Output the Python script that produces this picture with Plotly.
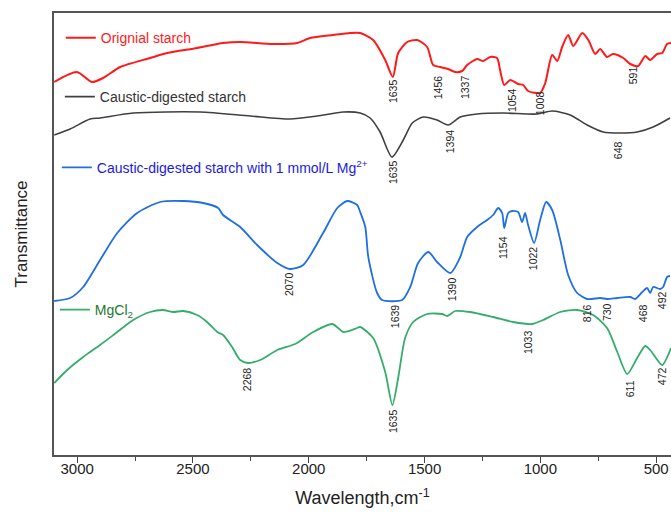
import plotly.graph_objects as go

# ---------------- data (wavenumber cm-1, transmittance a.u.) ----------------
wn_red = [3099, 3001, 2937, 2888, 2814, 2685, 2611, 2482, 2370, 2296, 2154, 2050, 1994, 1895,
          1821, 1778, 1722, 1670, 1637, 1614, 1575, 1532, 1489, 1463, 1433, 1398, 1368, 1338,
          1316, 1273, 1247, 1217, 1187, 1174, 1156, 1130, 1096, 1074, 1053, 1001, 979, 949,
          927, 906, 880, 858, 819, 793, 763, 742, 712, 686, 642, 612, 578, 547, 526, 496, 474,
          453, 436]
t_red = [373, 383, 373, 377, 388, 397, 402, 407, 412, 413, 411, 412, 417, 420,
         422, 422, 415, 395, 378, 402, 413, 415, 408, 390, 388, 386, 383, 384,
         390, 396, 394, 398, 397, 385, 370, 375, 371, 370, 364, 362, 372, 400,
         394, 408, 420, 409, 422, 415, 401, 406, 398, 401, 397, 391, 389, 399, 395, 401, 402,
         411, 412]

wn_black = [3099, 3030, 2944, 2901, 2758, 2469, 2253, 2080, 1964, 1851, 1778, 1735, 1692, 1641,
            1592, 1553, 1506, 1446, 1398, 1346, 1273, 1161, 1014, 949, 871, 798, 729, 655,
            582, 513, 440]
t_black = [320, 326, 336, 337, 342, 343, 339, 336, 339, 343, 342, 337, 323, 298,
           315, 332, 338, 335, 330, 338, 341, 342, 341, 344, 340, 330, 323, 322,
           323, 328, 337]

wn_blue = [3099, 3030, 2974, 2901, 2827, 2741, 2642, 2542, 2456, 2391, 2370, 2296, 2223, 2136,
           2080, 2024, 1938, 1877, 1834, 1791, 1778, 1756, 1743, 1705, 1683, 1597, 1562,
           1528, 1484, 1446, 1389, 1346, 1316, 1273, 1230, 1204, 1182, 1165, 1156, 1139, 1122,
           1096, 1079, 1066, 1053, 1027, 1001, 975, 949, 914, 880, 841, 798, 742, 712, 668,
           612, 591, 560, 539, 526, 513, 483, 470, 453, 440]
t_blue = [154, 157, 168, 195, 222, 242, 253, 254, 252, 247, 240, 228, 210, 192,
          186, 190, 222, 247, 254, 250, 243, 228, 198, 162, 155, 155, 168,
          192, 203, 193, 182, 198, 218, 228, 235, 240, 247, 242, 227, 242, 244,
          243, 233, 242, 230, 212, 235, 253, 245, 215, 180, 162, 156, 157, 156, 157,
          158, 156, 163, 167, 162, 168, 166, 168, 178, 179]

wn_green = [3099, 3043, 2974, 2901, 2827, 2758, 2685, 2629, 2585, 2542, 2482, 2439, 2395, 2370,
            2331, 2296, 2262, 2210, 2136, 2059, 1981, 1899, 1873, 1851, 1791, 1778, 1722, 1670,
            1639, 1614, 1584, 1549, 1489, 1424, 1402, 1368, 1303, 1204, 1117, 1035, 988, 914,
            841, 772, 712, 668, 625, 582, 547, 526, 504, 474, 436]
t_green = [72, 85, 98, 110, 123, 135, 143, 145, 143, 144, 140, 133, 123, 120,
           108, 95, 92, 95, 105, 111, 123, 131, 127, 123, 127, 128, 117, 83,
           50, 77, 117, 133, 141, 141, 139, 144, 143, 138, 133, 131, 135, 143,
           145, 140, 127, 103, 81, 97, 109, 105, 98, 90, 107]

# peak labels: text, position (wavenumber), level (transmittance a.u.)
lab_red_text = ["1635", "1456", "1337", "1054", "1008", "591"]
lab_red_x = [1636, 1441, 1325, 1122, 1001, 599]
lab_red_y = [364, 368, 368, 355, 352, 380]

lab_black_text = ["1635", "1394", "648"]
lab_black_x = [1636, 1389, 664]
lab_black_y = [283, 314, 305]

lab_blue_text = ["2070", "1639", "1390", "1154", "1022", "816", "730", "468", "492"]
lab_blue_x = [2085, 1627, 1381, 1161, 1031, 798, 712, 556, 474]
lab_blue_y = [171, 139, 166, 207, 197, 142, 143, 142, 155]

lab_green_text = ["2268", "1635", "1033", "611", "472"]
lab_green_x = [2266, 1636, 1053, 612, 474]
lab_green_y = [76, 34, 113, 66, 79]

x_ticks = [3000, 2500, 2000, 1500, 1000, 500]

# ---------------- figure ----------------
FONT = "Arial, 'Liberation Sans', sans-serif"
fig = go.Figure()

series = [
    (wn_red, t_red, "Orignial starch", "#ff1a1a", 2.0, "legend"),
    (wn_black, t_black, "Caustic-digested starch", "#404040", 1.6, "legend2"),
    (wn_blue, t_blue, "Caustic-digested starch with 1 mmol/L Mg<sup>2+</sup>", "#1f6fe0", 1.8, "legend3"),
    (wn_green, t_green, "MgCl<sub>2</sub>", "#35ad6a", 1.8, "legend4"),
]
for xs, ys, name, col, w, lg in series:
    fig.add_trace(go.Scatter(x=xs, y=ys, mode="lines", name=name, legend=lg, showlegend=True,
                             line=dict(color=col, width=w, shape="spline", smoothing=0.7),
                             hoverinfo="skip"))

annotations = []
for texts, xs, ys in [(lab_red_text, lab_red_x, lab_red_y),
                      (lab_black_text, lab_black_x, lab_black_y),
                      (lab_blue_text, lab_blue_x, lab_blue_y),
                      (lab_green_text, lab_green_x, lab_green_y)]:
    for t, x, y in zip(texts, xs, ys):
        annotations.append(dict(text=t, x=x, y=y, xref="x", yref="y", showarrow=False,
                                textangle=-90, xanchor="center", yanchor="middle",
                                font=dict(family=FONT, size=10.5, color="#222222")))

def lg(x, y, color):
    return dict(x=x, y=y, xanchor="left", yanchor="middle", bgcolor="rgba(0,0,0,0)",
                borderwidth=0, font=dict(family=FONT, size=14, color=color))

fig.update_layout(
    width=671, height=512,
    margin=dict(l=54, r=0, t=13, b=57, autoexpand=False),
    showlegend=True,
    paper_bgcolor="white", plot_bgcolor="white",
    font=dict(family=FONT, color="#222222"),
    annotations=annotations,
    legend=lg(0.011, 0.943, "#ff1a1a"),
    legend2=lg(0.0095, 0.810, "#333333"),
    legend3=lg(0.0046, 0.650, "#1a1ae6"),
    legend4=lg(0.0014, 0.328, "#1a7a2a"),
    xaxis=dict(range=[3100, 436], tickvals=x_ticks, ticktext=[str(v) for v in x_ticks],
               ticks="outside", ticklen=6, tickwidth=1.3, tickcolor="#444",
               minor=dict(tickvals=[2750, 2250, 1750, 1250, 750], ticks="outside", ticklen=4,
                          tickwidth=1.3, tickcolor="#444"),
               showline=True, linecolor="#555", linewidth=1.5, mirror=True,
               showgrid=False, zeroline=False, automargin=False, ticklabelstandoff=-7,
               tickfont=dict(family=FONT, size=15, color="#222"),
               title=dict(text="Wavelength,cm<sup>-1</sup>", font=dict(family=FONT, size=18, color="#222"),
                          standoff=16)),
    yaxis=dict(range=[0, 442], showticklabels=False, ticks="", showgrid=False, zeroline=False,
               showline=True, linecolor="#555", linewidth=1.5, mirror=False, automargin=False,
               title=dict(text="Transmittance", font=dict(family=FONT, size=17, color="#222"),
                          standoff=20)),
)

# remove the default page margin so the 671 x 512 figure fills the window exactly
fig.write_html("out.html", config={"displayModeBar": False},
               post_script="document.body.style.margin='0';document.body.style.overflow='hidden';")
